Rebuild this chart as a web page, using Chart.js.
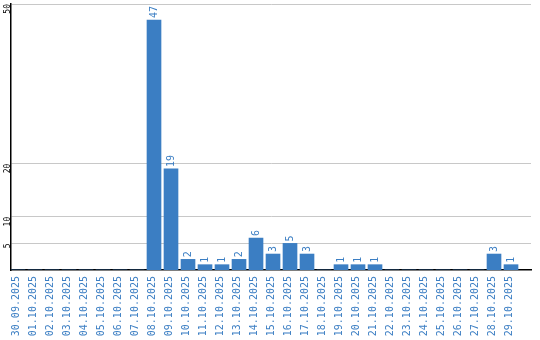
<!DOCTYPE html>
<html>
<head>
<meta charset="utf-8">
<script src="https://cdn.jsdelivr.net/npm/chart.js@4"></script>
<style>
  html, body { margin: 0; padding: 0; background: #fff; }
  #wrap { width: 540px; height: 340px; }
</style>
</head>
<body>
<div id="wrap"><canvas id="chart" width="540" height="340"></canvas></div>
<script>
// Daten
const dates = ['30.09.2025', '01.10.2025', '02.10.2025', '03.10.2025', '04.10.2025', '05.10.2025',
    '06.10.2025', '07.10.2025', '08.10.2025', '09.10.2025', '10.10.2025', '11.10.2025', '12.10.2025',
    '13.10.2025', '14.10.2025', '15.10.2025', '16.10.2025', '17.10.2025', '18.10.2025', '19.10.2025',
    '20.10.2025', '21.10.2025', '22.10.2025', '23.10.2025', '24.10.2025', '25.10.2025', '26.10.2025',
    '27.10.2025', '28.10.2025', '29.10.2025'];
const counts = [0, 0, 0, 0, 0, 0, 0, 0, 47, 19, 2, 1, 1, 2, 6, 3, 5, 3, 0, 1, 1, 1, 0, 0, 0, 0, 0, 0, 3, 1];
const yTicks = [5, 10, 20, 50];

const BLUE = '#3b7ec3';
const MONO = '"DejaVu Sans Mono", monospace';

// Werte über den Balken (senkrecht)
const valueLabels = {
    id: 'valueLabels',
    afterDatasetsDraw(chart) {
        const ctx = chart.ctx;
        const meta = chart.getDatasetMeta(0);
        ctx.save();
        ctx.fillStyle = BLUE;
        ctx.font = '10px ' + MONO;
        ctx.textAlign = 'left';
        ctx.textBaseline = 'middle';
        meta.data.forEach((bar, i) => {
            if (!counts[i]) return;
            ctx.save();
            ctx.translate(bar.x, bar.y - 2);
            ctx.rotate(-Math.PI / 2);
            ctx.fillText(String(counts[i]), 0, 0);
            ctx.restore();
        });
        ctx.restore();
    }
};

new Chart(document.getElementById('chart'), {
    type: 'bar',
    data: {
        datasets: [{
            data: counts.map((v, i) => ({ x: i, y: v })),
            backgroundColor: BLUE,
            barThickness: 14
        }]
    },
    options: {
        responsive: false,
        animation: false,
        layout: { padding: { top: 4, right: 9, left: 0, bottom: 0 } },
        plugins: { legend: { display: false }, tooltip: { enabled: false } },
        scales: {
            x: {
                type: 'linear',
                offset: false,
                min: -0.412,
                max: 30.176,
                afterBuildTicks: (s) => { s.ticks = dates.map((d, i) => ({ value: i })); },
                afterFit: (s) => { s.height = 70; s.paddingLeft = 0; s.paddingRight = 0; },
                grid: { display: false, drawTicks: false, offset: false },
                border: { color: '#000', width: 1.5 },
                ticks: {
                    autoSkip: false,
                    minRotation: 90,
                    maxRotation: 90,
                    padding: 6,
                    labelOffset: -2,
                    color: BLUE,
                    font: { family: MONO, size: 10 },
                    callback: (v) => dates[v] || ''
                }
            },
            y: {
                min: 0,
                max: 50,
                afterBuildTicks: (s) => { s.ticks = yTicks.map(v => ({ value: v })); },
                afterFit: (s) => { s.width = 11; s.paddingTop = 0; s.paddingBottom = 0; },
                grid: { color: '#c8c8c8', drawTicks: false },
                border: { color: '#000', width: 1.5 },
                ticks: {
                    minRotation: 90,
                    maxRotation: 90,
                    padding: 3,
                    color: '#000',
                    font: { family: MONO, size: 8 }
                }
            }
        }
    },
    plugins: [valueLabels]
});
</script>
</body>
</html>
